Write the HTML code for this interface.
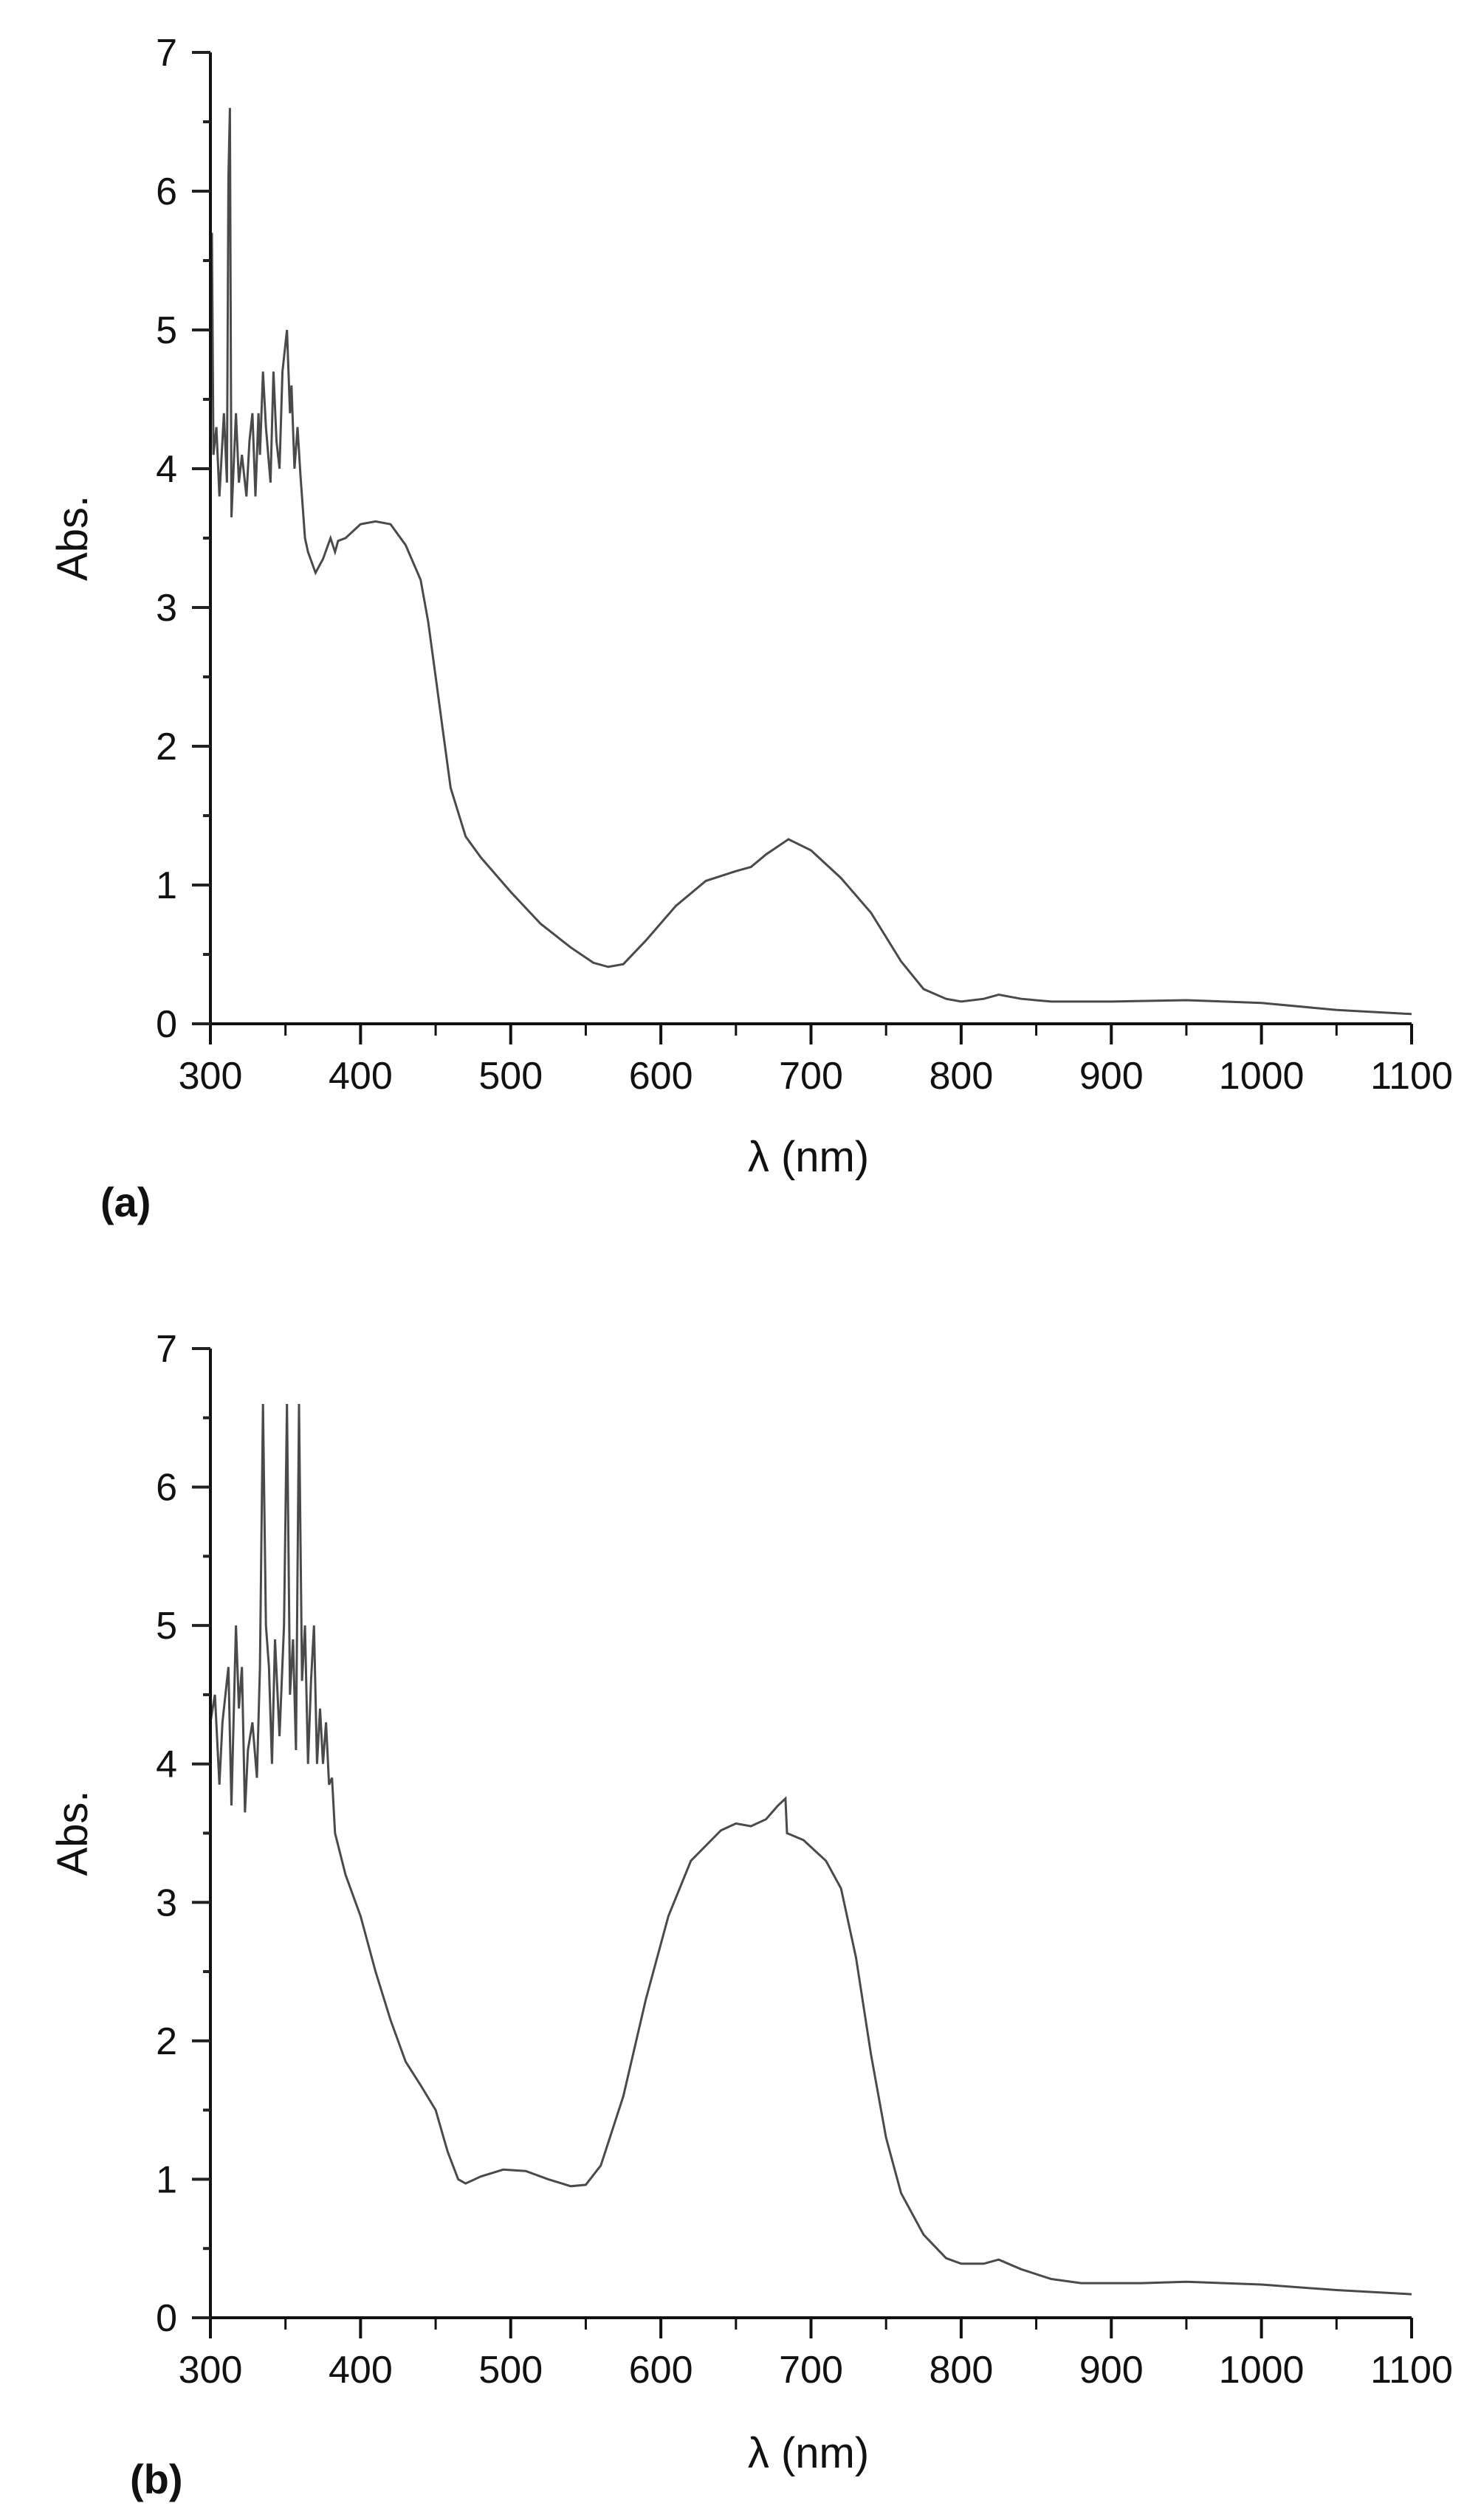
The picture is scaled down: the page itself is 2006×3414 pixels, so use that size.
<!DOCTYPE html>
<html><head><meta charset="utf-8"><style>
html,body{margin:0;padding:0;background:#fff;}
svg{display:block;font-family:"Liberation Sans",Arial,sans-serif;}
</style></head><body>
<svg id="fig" width="2006" height="3414" viewBox="0 0 2006 3414" xmlns="http://www.w3.org/2000/svg"></svg>
<script>
const xTicks=[300,400,500,600,700,800,900,1000,1100];
const yTicks=[0,1,2,3,4,5,6,7];
const wlA=[300,301,302,304,306,309,311,312,313,314,317,319,321,324,326,328,330,332,333,335,337,340,342,344,346,348,351,353,354,356,358,360,363,365,370,375,380,383,385,390,400,410,420,430,440,445,450,455,460,470,480,500,520,540,555,565,575,590,610,630,650,660,670,685,700,720,740,760,775,790,800,815,825,840,860,900,950,1000,1050,1100];
const absA=[4.2,5.7,4.1,4.3,3.8,4.4,3.9,6.1,6.6,3.65,4.4,3.9,4.1,3.8,4.2,4.4,3.8,4.4,4.1,4.7,4.3,3.9,4.7,4.2,4.0,4.7,5.0,4.4,4.6,4.0,4.3,3.95,3.5,3.4,3.25,3.35,3.5,3.4,3.48,3.5,3.6,3.62,3.6,3.45,3.2,2.9,2.5,2.1,1.7,1.35,1.2,0.95,0.72,0.55,0.44,0.41,0.43,0.6,0.85,1.03,1.1,1.13,1.22,1.33,1.25,1.05,0.8,0.45,0.25,0.18,0.16,0.18,0.21,0.18,0.16,0.16,0.17,0.15,0.1,0.07];
const wlB=[300,303,306,308,312,314,317,319,321,323,325,328,331,333,335,337,339,341,343,346,349,351,353,355,357,359,361,363,365,367,369,371,373,375,377,379,381,383,390,400,410,420,430,440,450,458,465,470,480,495,510,525,540,550,560,575,590,605,620,640,650,660,670,678,683,684,695,710,720,730,740,750,760,775,790,800,815,825,840,860,880,920,950,1000,1050,1100];
const absB=[4.3,4.5,3.85,4.3,4.7,3.7,5.0,4.4,4.7,3.65,4.1,4.3,3.9,4.7,6.6,5.0,4.7,4.0,4.9,4.2,5.0,6.6,4.5,4.9,4.1,6.6,4.6,5.0,4.0,4.6,5.0,4.0,4.4,4.0,4.3,3.85,3.9,3.5,3.2,2.9,2.5,2.15,1.85,1.68,1.5,1.2,1.0,0.97,1.02,1.07,1.06,1.0,0.95,0.96,1.1,1.6,2.3,2.9,3.3,3.52,3.57,3.55,3.6,3.7,3.75,3.5,3.45,3.3,3.1,2.6,1.9,1.3,0.9,0.6,0.43,0.39,0.39,0.42,0.35,0.28,0.25,0.25,0.26,0.24,0.2,0.17];

const NS="http://www.w3.org/2000/svg";
const svg=document.getElementById('fig');
function mk(tag,attrs,parent){const e=document.createElementNS(NS,tag);for(const k in attrs)e.setAttribute(k,attrs[k]);(parent||svg).appendChild(e);return e;}

function panel(id,y7,y0,wl,ab,letter,letterY,xlabY){
  const x0=285,x1=1912;
  const sx=v=>x0+(v-300)/800*(x1-x0);
  const sy=v=>y0-v/7*(y0-y7);
  const g=mk('g',{});
  
  
  // series
  let d='';
  for(let i=0;i<wl.length;i++){d+=(i?'L':'M')+sx(wl[i]).toFixed(1)+' '+sy(ab[i]).toFixed(1);}
  const p=mk('path',{d:d,fill:'none',stroke:'#4a4a4a','stroke-width':3,'stroke-linejoin':'miter'},g);
  
  
  // axes
  const ax=mk('path',{d:`M${x0} ${y7}L${x0} ${y0}L${x1} ${y0}`,fill:'none',stroke:'#111','stroke-width':4},g);
  
  
  // x ticks
  for(let v=300;v<=1100;v+=50){
    const maj=(v%100===0);
    mk('line',{x1:sx(v),x2:sx(v),y1:y0,y2:y0+(maj?28:16),stroke:'#111','stroke-width':maj?4:3},g);
  }
  xTicks.forEach(v=>{
    const t=mk('text',{x:sx(v),y:y0+88,'font-size':52,'text-anchor':'middle',fill:'#111'},g);
    t.textContent=v;
    
    
  });
  // y ticks
  for(let k=0;k<=14;k++){
    const v=k/2;const maj=(k%2===0);
    mk('line',{x1:x0,x2:x0-(maj?25:10),y1:sy(v),y2:sy(v),stroke:'#222','stroke-width':4},g);
  }
  yTicks.forEach(v=>{
    const t=mk('text',{x:240,y:sy(v)+18,'font-size':52,'text-anchor':'end',fill:'#111'},g);
    t.textContent=v;
    
    
  });
  const yc=(y7+y0)/2;
  const yl=mk('text',{x:0,y:0,'font-size':58,'text-anchor':'middle',fill:'#111',transform:`translate(118 ${yc}) rotate(-90)`},g);
  yl.textContent='Abs.';
  
  
  const xl=mk('text',{x:1095,y:xlabY,'font-size':58,'text-anchor':'middle',fill:'#111'},g);
  xl.textContent='λ (nm)';
  
  
  const pl=mk('text',{x:letter,y:letterY,'font-size':56,'font-weight':'bold',fill:'#111'},g);
  pl.textContent='('+id+')';
  
  
}
panel('a',71,1387,wlA,absA,136,1648,1587);
panel('b',1827,3140,wlB,absB,176,3378,3343);
</script>
</body></html>
